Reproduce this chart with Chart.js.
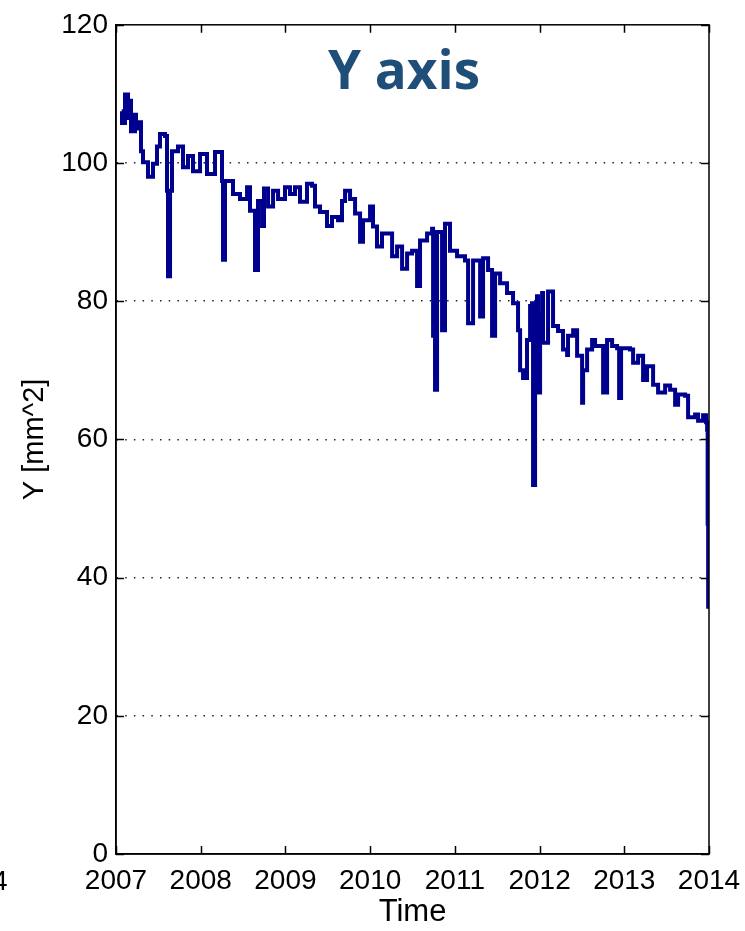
<!DOCTYPE html>
<html>
<head>
<meta charset="utf-8">
<script src="https://cdn.jsdelivr.net/npm/chart.js@4.4.1/dist/chart.umd.min.js"></script>
<style>
  html, body { margin: 0; padding: 0; background: #fff; }
  #wrap { width: 745px; height: 931px; position: relative; }
</style>
</head>
<body>
<div id="wrap"><canvas id="chart" width="745" height="931"></canvas></div>
<script>
// Series (decimal year, value)
const times = [
  2007.067, 2007.071, 2007.106, 2007.142, 2007.165, 2007.177, 2007.224, 2007.236,
  2007.283, 2007.295, 2007.319, 2007.378, 2007.437, 2007.484, 2007.519, 2007.579,
  2007.602, 2007.614, 2007.638, 2007.661, 2007.732, 2007.791, 2007.850, 2007.909,
  2007.992, 2008.074, 2008.169, 2008.228, 2008.251, 2008.263, 2008.287, 2008.381,
  2008.464, 2008.547, 2008.582, 2008.641, 2008.676, 2008.724, 2008.747, 2008.795,
  2008.854, 2008.913, 2008.995, 2009.054, 2009.113, 2009.172, 2009.255, 2009.314,
  2009.349, 2009.408, 2009.491, 2009.550, 2009.621, 2009.668, 2009.704, 2009.763,
  2009.822, 2009.881, 2009.916, 2009.999, 2010.034, 2010.081, 2010.140, 2010.200,
  2010.259, 2010.318, 2010.377, 2010.436, 2010.495, 2010.554, 2010.589, 2010.672,
  2010.731, 2010.743, 2010.766, 2010.790, 2010.849, 2010.884, 2010.943, 2011.026,
  2011.120, 2011.156, 2011.215, 2011.298, 2011.333, 2011.392, 2011.439, 2011.475,
  2011.534, 2011.616, 2011.687, 2011.746, 2011.770, 2011.805, 2011.852, 2011.888,
  2011.911, 2011.923, 2011.947, 2011.970, 2011.982, 2012.006, 2012.030, 2012.041,
  2012.100, 2012.159, 2012.218, 2012.277, 2012.325, 2012.336, 2012.396, 2012.443,
  2012.502, 2012.514, 2012.561, 2012.620, 2012.655, 2012.714, 2012.750, 2012.797,
  2012.856, 2012.915, 2012.939, 2012.962, 2013.068, 2013.104, 2013.163, 2013.222,
  2013.269, 2013.340, 2013.399, 2013.482, 2013.541, 2013.600, 2013.635, 2013.718,
  2013.753, 2013.836, 2013.871, 2013.930, 2013.966, 2013.978, 2013.984, 2013.990
];
const values = [
  107.5, 105.8, 109.9, 106.5, 109.0, 104.6, 107.0, 105.0,
  105.9, 101.7, 100.1, 98.0, 99.9, 102.4, 104.2, 103.9,
  96.0, 83.6, 96.0, 101.7, 102.4, 99.4, 101.0, 98.8,
  101.3, 98.4, 101.6, 101.6, 97.4, 86.0, 97.4, 95.5,
  94.8, 96.5, 93.1, 84.5, 94.5, 90.9, 96.3, 93.7,
  96.0, 94.8, 96.5, 95.5, 96.5, 94.4, 97.0, 96.7,
  93.7, 92.9, 90.9, 92.2, 91.7, 94.5, 96.0, 94.8,
  92.7, 88.6, 91.7, 93.7, 90.8, 87.9, 89.8, 89.8,
  86.5, 87.9, 84.7, 86.9, 87.3, 82.2, 88.8, 89.8,
  90.5, 75.0, 67.2, 90.0, 75.8, 91.2, 87.3, 86.5,
  85.9, 76.8, 85.9, 77.8, 86.2, 84.5, 75.0, 84.0,
  82.6, 81.2, 79.7, 75.8, 70.0, 68.9, 74.4, 79.3,
  79.7, 53.4, 78.0, 80.7, 66.8, 78.0, 81.2, 74.0,
  81.4, 76.4, 75.7, 73.0, 72.2, 75.0, 75.8, 72.1,
  65.3, 70.0, 73.0, 74.4, 73.5, 73.5, 66.8, 74.4,
  73.5, 73.2, 66.0, 73.2, 73.0, 71.1, 72.1, 68.6,
  70.6, 67.9, 66.8, 67.8, 67.2, 65.0, 66.5, 66.3,
  63.2, 63.6, 62.7, 63.5, 62.5, 61.4, 47.8, 35.5
];
const yearTicks = [2007, 2008, 2009, 2010, 2011, 2012, 2013, 2014];
const yTicks = [0, 20, 40, 60, 80, 100, 120];

const FONT = "'Liberation Sans', Arial, sans-serif";

// MATLAB-style box: top/right border, inward ticks, in-plot title
const boxPlugin = {
  id: "box",
  afterDraw(chart) {
    const { ctx, chartArea: a, scales } = chart;
    const x = scales.x, y = scales.y;
    ctx.save();
    ctx.strokeStyle = "#000";
    ctx.lineWidth = 1.5;
    ctx.strokeRect(a.left, a.top, a.right - a.left, a.bottom - a.top);
    ctx.beginPath();
    yearTicks.forEach((t) => {
      const px = Math.round(x.getPixelForValue(t)) + 0.5;
      ctx.moveTo(px, a.bottom); ctx.lineTo(px, a.bottom - 8);
      ctx.moveTo(px, a.top); ctx.lineTo(px, a.top + 8);
    });
    yTicks.forEach((v) => {
      const py = Math.round(y.getPixelForValue(v)) + 0.5;
      ctx.moveTo(a.left, py); ctx.lineTo(a.left + 8, py);
      ctx.moveTo(a.right, py); ctx.lineTo(a.right - 8, py);
    });
    ctx.stroke();

    ctx.fillStyle = "#1f4e79";
    ctx.font = "bold 53px 'Open Sans', sans-serif";
    ctx.textAlign = "center";
    ctx.textBaseline = "middle";
    ctx.fillText("Y axis", 404, 74);

    // fragment of the neighbouring panel's last tick label
    ctx.fillStyle = "#000";
    ctx.font = "28px " + FONT;
    ctx.textAlign = "left";
    ctx.textBaseline = "alphabetic";
    ctx.fillText("4", -8, 890);
    ctx.restore();
  },
};

new Chart(document.getElementById("chart"), {
  type: "line",
  data: {
    datasets: [
      {
        data: times.map((t, i) => ({ x: t, y: values[i] })),
        borderColor: "#00008f",
        borderWidth: 4,
        pointRadius: 0,
        stepped: true,
        fill: false,
      },
    ],
  },
  options: {
    responsive: false,
    animation: false,
    layout: { padding: { top: 20, right: 36, left: 18, bottom: 0 } },
    plugins: { legend: { display: false }, tooltip: { enabled: false } },
    scales: {
      x: {
        type: "linear",
        min: 2007,
        max: 2014,
        afterBuildTicks: (s) => { s.ticks = yearTicks.map((v) => ({ value: v })); },
        afterFit: (s) => { s.height = 77; s.paddingRight = 0; },
        ticks: {
          color: "#000",
          font: { family: FONT, size: 28 },
          padding: 10,
          maxRotation: 0,
          autoSkip: false,
          callback: (v) => String(v),
        },
        grid: { display: false, drawTicks: false },
        border: { display: true, color: "#000", width: 1.5 },
        title: {
          display: true,
          text: "Time",
          color: "#000",
          font: { family: FONT, size: 31 },
          padding: { top: 0, bottom: 0 },
        },
      },
      y: {
        min: 0,
        max: 120,
        afterBuildTicks: (s) => { s.ticks = yTicks.map((v) => ({ value: v })); },
        afterFit: (s) => { s.width = 98; },
        ticks: {
          color: "#000",
          font: { family: FONT, size: 28 },
          padding: 8,
        },
        grid: {
          drawTicks: false,
          color: (c) => (c.tick && (c.tick.value === 0 || c.tick.value === 120) ? "rgba(0,0,0,0)" : "#222"),
          lineWidth: 1.5,
        },
        border: { display: true, color: "#000", width: 1.5, dash: [1.5, 7.2] },
        title: {
          display: true,
          text: "Y [mm^2]",
          color: "#000",
          font: { family: FONT, size: 29 },
          padding: { top: 0, bottom: 10 },
        },
      },
    },
  },
  plugins: [boxPlugin],
});
</script>
</body>
</html>
